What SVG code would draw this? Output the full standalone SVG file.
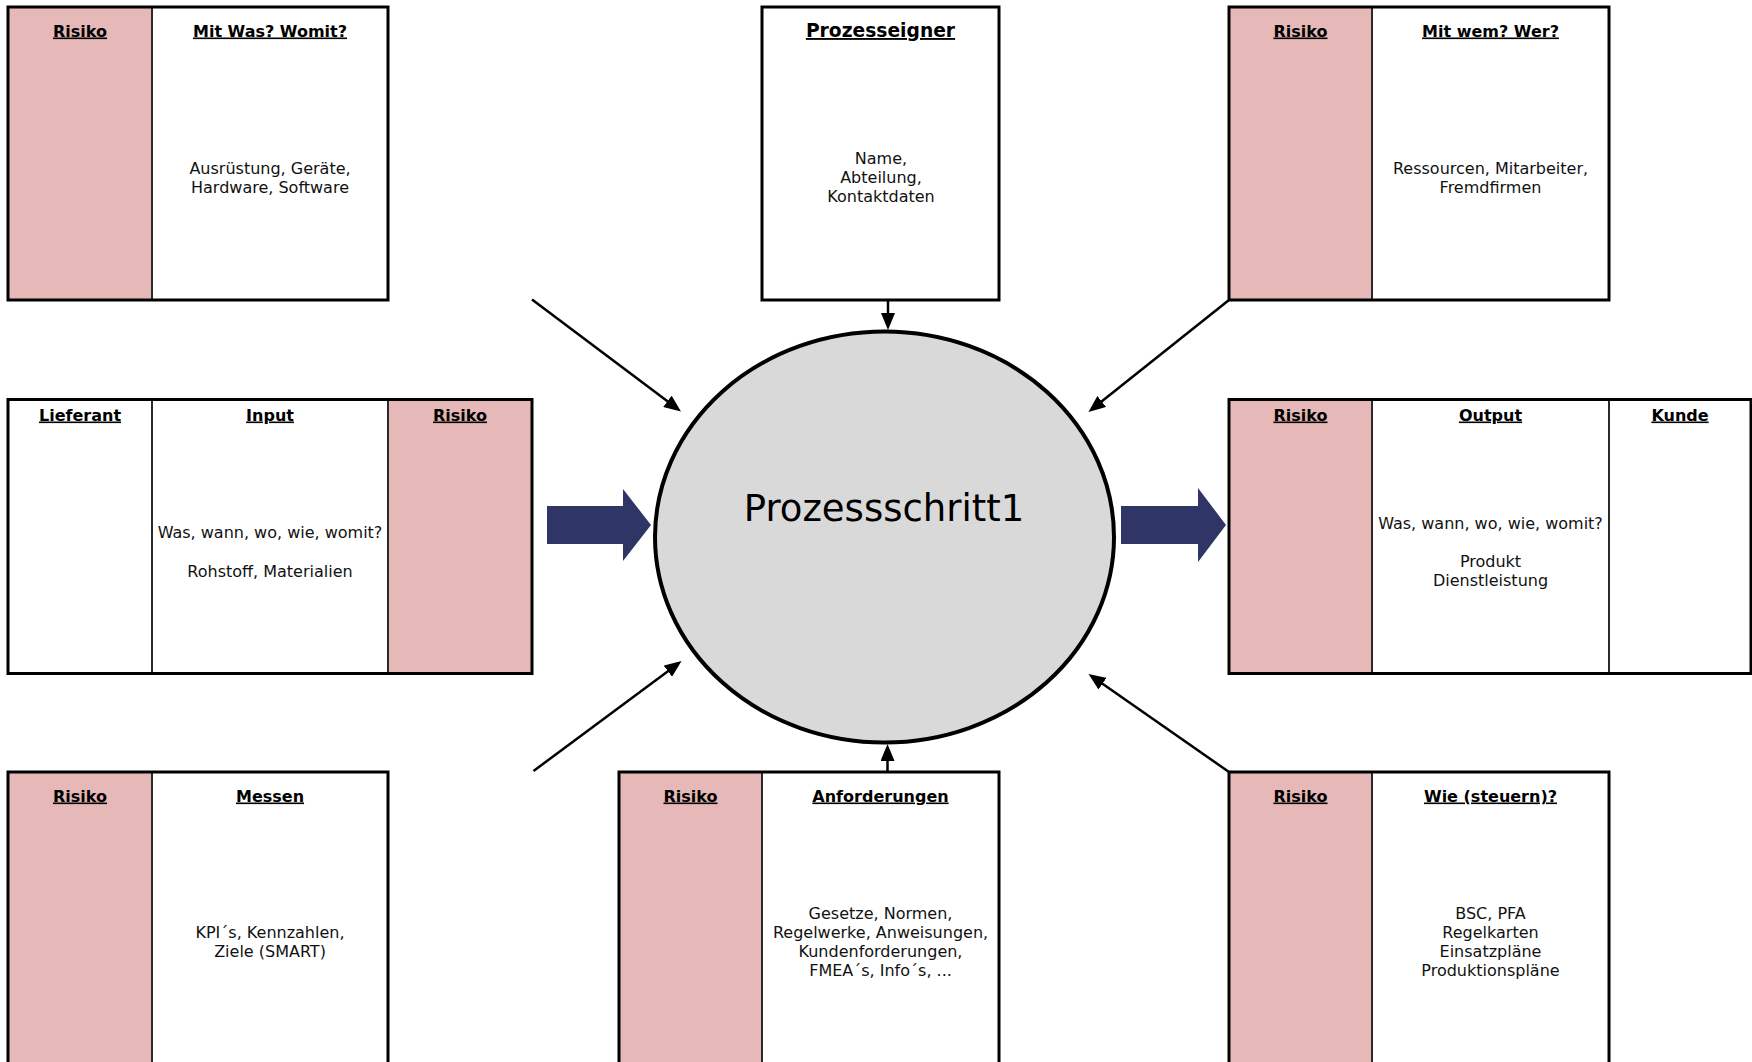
<svg xmlns="http://www.w3.org/2000/svg" width="1752" height="1062" viewBox="0 0 1752 1062">
  <style>
    .frame { fill: none; stroke: #000; stroke-width: 3; }
    .risk { fill: #e6b8b7; }
    .cell { fill: #fff; }
    .div { stroke: #2a2a2a; stroke-width: 2; }
    .hd { font-family: "DejaVu Sans", Verdana, sans-serif; font-size: 16px; font-weight: bold; text-anchor: middle; text-decoration: underline; fill: #000; }
    .hd.big { font-size: 18.7px; }
    .tx { font-family: "DejaVu Sans", Verdana, sans-serif; font-size: 16px; text-anchor: middle; fill: #111; }
    .conn { stroke: #000; stroke-width: 2.5; fill: none; }
    .flow { fill: #2f3564; }
  </style>
  <defs>
    <marker id="head" markerUnits="userSpaceOnUse" viewBox="0 0 17 14" refX="3" refY="7" markerWidth="17" markerHeight="14" orient="auto">
      <path d="M0,0 L17,7 L0,14 z" fill="#000"/>
    </marker>
  </defs>

  <rect width="1752" height="1062" fill="#fff"/>

  <!-- central process step -->
  <g id="prozessschritt">
    <ellipse cx="884.5" cy="537" rx="229.5" ry="205.5" fill="#d9d9d9" stroke="#000" stroke-width="4"/>
    <text x="884" y="521" font-family="DejaVu Sans, Verdana, sans-serif" font-size="37" text-anchor="middle" fill="#000">Prozessschritt1</text>
  </g>

  <!-- top left: equipment -->
  <g id="mit-was">
    <rect class="risk" x="8" y="7" width="144" height="293"/>
    <rect class="cell" x="152" y="7" width="236" height="293"/>
    <line class="div" x1="152" y1="7" x2="152" y2="300"/>
    <rect class="frame" x="8" y="7" width="380" height="293"/>
    <text class="hd" x="80" y="36.5">Risiko</text>
    <text class="hd" x="270" y="36.5">Mit Was? Womit?</text>
    <text class="tx" x="270" y="173.5">Ausrüstung, Geräte,</text>
    <text class="tx" x="270" y="192.8">Hardware, Software</text>
  </g>

  <!-- top middle: process owner -->
  <g id="prozesseigner">
    <rect class="frame" x="762" y="7" width="237" height="293" fill="#fff"/>
    <text class="hd big" x="880.5" y="37">Prozesseigner</text>
    <text class="tx" x="881" y="163.5">Name,</text>
    <text class="tx" x="881" y="182.8">Abteilung,</text>
    <text class="tx" x="881" y="202.1">Kontaktdaten</text>
  </g>

  <!-- top right: people -->
  <g id="mit-wem">
    <rect class="risk" x="1229" y="7" width="143" height="293"/>
    <rect class="cell" x="1372" y="7" width="237" height="293"/>
    <line class="div" x1="1372" y1="7" x2="1372" y2="300"/>
    <rect class="frame" x="1229" y="7" width="380" height="293"/>
    <text class="hd" x="1300.5" y="36.5">Risiko</text>
    <text class="hd" x="1490.5" y="36.5">Mit wem? Wer?</text>
    <text class="tx" x="1490.5" y="173.5">Ressourcen, Mitarbeiter,</text>
    <text class="tx" x="1490.5" y="192.8">Fremdfirmen</text>
  </g>

  <!-- middle left: supplier / input -->
  <g id="input">
    <rect class="cell" x="8" y="399.5" width="380" height="274"/>
    <rect class="risk" x="388" y="399.5" width="144" height="274"/>
    <line class="div" x1="152" y1="399.5" x2="152" y2="673.5"/>
    <line class="div" x1="388" y1="399.5" x2="388" y2="673.5"/>
    <rect class="frame" x="8" y="399.5" width="524" height="274"/>
    <text class="hd" x="80" y="420.5">Lieferant</text>
    <text class="hd" x="270" y="420.5">Input</text>
    <text class="hd" x="460" y="420.5">Risiko</text>
    <text class="tx" x="270" y="537.5">Was, wann, wo, wie, womit?</text>
    <text class="tx" x="270" y="576.5">Rohstoff, Materialien</text>
  </g>

  <!-- middle right: output / customer -->
  <g id="output">
    <rect class="risk" x="1229" y="399.5" width="143" height="274"/>
    <rect class="cell" x="1372" y="399.5" width="379" height="274"/>
    <line class="div" x1="1372" y1="399.5" x2="1372" y2="673.5"/>
    <line class="div" x1="1609" y1="399.5" x2="1609" y2="673.5"/>
    <rect class="frame" x="1229" y="399.5" width="522" height="274"/>
    <text class="hd" x="1300.5" y="420.5">Risiko</text>
    <text class="hd" x="1490.5" y="420.5">Output</text>
    <text class="hd" x="1680" y="420.5">Kunde</text>
    <text class="tx" x="1490.5" y="528.5">Was, wann, wo, wie, womit?</text>
    <text class="tx" x="1490.5" y="566.5">Produkt</text>
    <text class="tx" x="1490.5" y="585.8">Dienstleistung</text>
  </g>

  <!-- bottom left: measuring -->
  <g id="messen">
    <rect class="risk" x="8" y="772" width="144" height="300"/>
    <rect class="cell" x="152" y="772" width="236" height="300"/>
    <line class="div" x1="152" y1="772" x2="152" y2="1072"/>
    <rect class="frame" x="8" y="772" width="380" height="300"/>
    <text class="hd" x="80" y="801.5">Risiko</text>
    <text class="hd" x="270" y="801.5">Messen</text>
    <text class="tx" x="270" y="937.5">KPI´s, Kennzahlen,</text>
    <text class="tx" x="270" y="956.8">Ziele (SMART)</text>
  </g>

  <!-- bottom middle: requirements -->
  <g id="anforderungen">
    <rect class="risk" x="619" y="772" width="143" height="300"/>
    <rect class="cell" x="762" y="772" width="237" height="300"/>
    <line class="div" x1="762" y1="772" x2="762" y2="1072"/>
    <rect class="frame" x="619" y="772" width="380" height="300"/>
    <text class="hd" x="690.5" y="801.5">Risiko</text>
    <text class="hd" x="880.5" y="801.5">Anforderungen</text>
    <text class="tx" x="880.5" y="918.5">Gesetze, Normen,</text>
    <text class="tx" x="880.5" y="937.8">Regelwerke, Anweisungen,</text>
    <text class="tx" x="880.5" y="957.1">Kundenforderungen,</text>
    <text class="tx" x="880.5" y="976.4">FMEA´s, Info´s, ...</text>
  </g>

  <!-- bottom right: steering -->
  <g id="steuern">
    <rect class="risk" x="1229" y="772" width="143" height="300"/>
    <rect class="cell" x="1372" y="772" width="237" height="300"/>
    <line class="div" x1="1372" y1="772" x2="1372" y2="1072"/>
    <rect class="frame" x="1229" y="772" width="380" height="300"/>
    <text class="hd" x="1300.5" y="801.5">Risiko</text>
    <text class="hd" x="1490.5" y="801.5">Wie (steuern)?</text>
    <text class="tx" x="1490.5" y="918.5">BSC, PFA</text>
    <text class="tx" x="1490.5" y="937.8">Regelkarten</text>
    <text class="tx" x="1490.5" y="957.1">Einsatzpläne</text>
    <text class="tx" x="1490.5" y="976.4">Produktionspläne</text>
  </g>

  <!-- connectors -->
  <g id="connectors">
    <polygon class="flow" points="547,506 623,506 623,489 651,525 623,561 623,544 547,544"/>
    <polygon class="flow" points="1121,506 1198,506 1198,488 1226,525 1198,562 1198,544 1121,544"/>
    <line class="conn" x1="532" y1="299.5" x2="669.8" y2="403.1" marker-end="url(#head)"/>
    <line class="conn" x1="1229" y1="300" x2="1099.4" y2="403.3" marker-end="url(#head)"/>
    <line class="conn" x1="533.5" y1="771" x2="670.3" y2="669.4" marker-end="url(#head)"/>
    <line class="conn" x1="1229" y1="772" x2="1100" y2="682" marker-end="url(#head)"/>
    <line class="conn" x1="888" y1="300" x2="888" y2="316" marker-end="url(#head)"/>
    <line class="conn" x1="887.5" y1="772" x2="887.5" y2="758" marker-end="url(#head)"/>
  </g>
</svg>
